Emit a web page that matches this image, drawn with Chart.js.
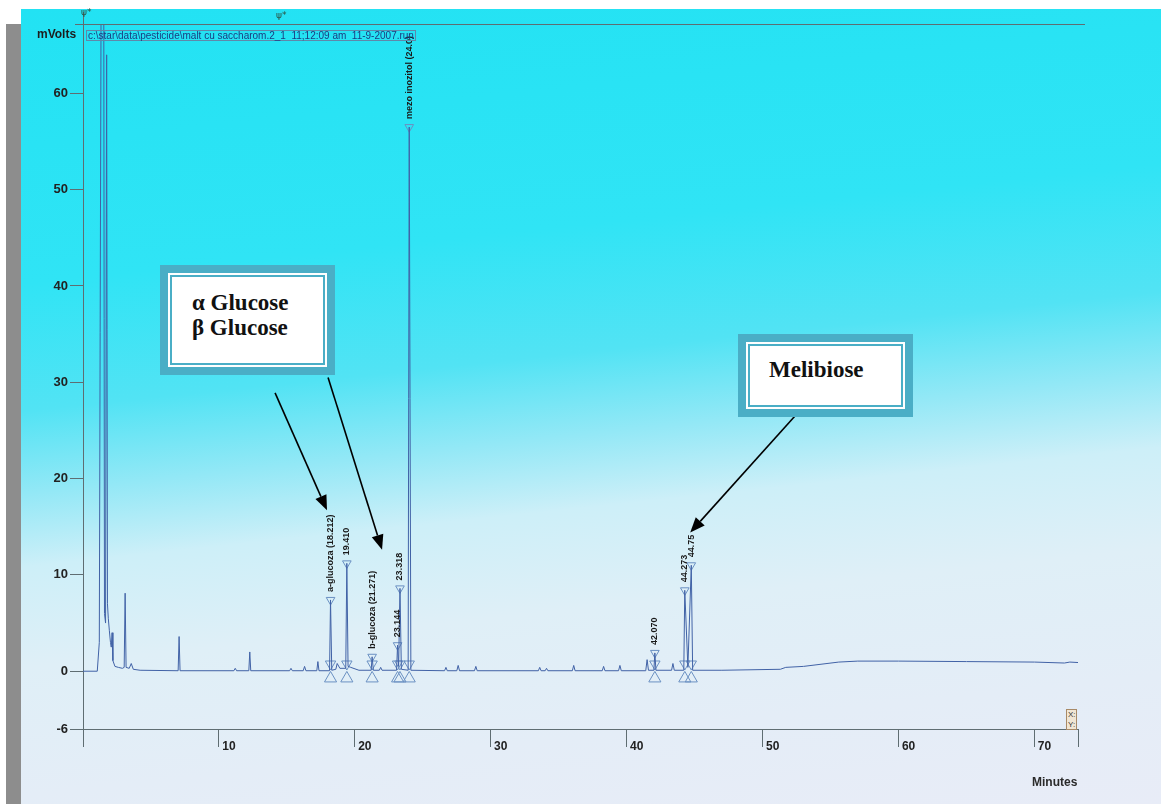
<!DOCTYPE html>
<html>
<head>
<meta charset="utf-8">
<script src="https://cdn.jsdelivr.net/npm/chart.js@4.4.1/dist/chart.umd.min.js"></script>
<style>
  html, body { margin: 0; padding: 0; background: #fff; }
  #page { position: relative; width: 1161px; height: 804px; overflow: hidden; font-family: "Liberation Sans", Arial, sans-serif; }
  #strip { position: absolute; left: 6px; top: 24px; width: 15px; height: 780px; background: #8d8d8d; }
  #scan { position: absolute; left: 21px; top: 9px; right: 0; bottom: 0;
    background: linear-gradient(174deg, #22e2f3 0%, #30e4f5 30%, #52e3f4 44%, #93e8f6 53%, #cdeff8 61%, #dfeff7 72%, #e4edf7 86%, #e8ecf7 100%); }
  #chart { position: absolute; left: 0; top: 0; }
  .txt { position: absolute; white-space: pre; color: #1d1d1d; }
  #ylab { left: 37px; top: 27px; font: bold 12px "Liberation Sans", Arial, sans-serif; }
  #xlab { left: 1032px; top: 775px; font: bold 12px "Liberation Sans", Arial, sans-serif; color: #2a2a2a; }
  #file { left: 86px; top: 30px; font: 10px "Liberation Sans", Arial, sans-serif; line-height: 9px;
    color: #1c3c80; border: 1px solid #5f88aa; padding: 0 1px; }
  .evt { position: absolute; font: 9px "DejaVu Sans", sans-serif; color: #2d5040; }
  #xy { position: absolute; left: 1066px; top: 709px; width: 11px; height: 21px; border: 1px solid #a88a68;
    background: #f1e6d4; font: 8px "Liberation Sans", Arial, sans-serif; line-height: 10px; color: #333; padding-left: 1px; box-sizing: border-box; }
  .note { position: absolute; background: #4aaec6; padding: 8px; box-sizing: border-box; }
  .note .mid { background: #fff; padding: 2px; height: 100%; box-sizing: border-box; }
  .note .inner { border: 2px solid #4aaec6; background: #fff; height: 100%; box-sizing: border-box;
    font: bold 23px "Liberation Serif", "Times New Roman", serif; line-height: 25px; color: #111; white-space: pre; }
</style>
</head>
<body>
<div id="page">
  <div id="scan"></div>
  <div id="strip"></div>
  <canvas id="chart" width="1161" height="804"></canvas>
  <div class="txt" id="ylab">mVolts</div>
  <div class="txt" id="xlab">Minutes</div>
  <div class="txt" id="file">c:\star\data\pesticide\malt cu saccharom.2_1  11;12:09 am  11-9-2007.run</div>
  <div class="evt" style="left:81px; top:7px;">ψ*</div>
  <div class="evt" style="left:276px; top:10px;">ψ*</div>
  <div id="xy">X:<br>Y:</div>
  <div class="note" style="left:160px; top:265px; width:175px; height:110px;">
    <div class="mid"><div class="inner" style="padding:13px 0 0 20px;">α Glucose
β Glucose</div></div>
  </div>
  <div class="note" style="left:738px; top:334px; width:175px; height:83px;">
    <div class="mid"><div class="inner" style="padding:11px 0 0 19px;">Melibiose</div></div>
  </div>
</div>
<script>
// detector trace, minutes / mVolts
var traceTime = [0, 1.05, 1.20, 1.35, 1.52, 1.58, 1.66, 1.74, 1.80, 1.86, 1.94, 2.02, 2.08, 2.14, 2.20, 2.35, 2.60, 2.90,
  3.03, 3.10, 3.17, 3.40, 3.55, 3.70, 4.20, 7.00, 7.07, 7.14, 11.1, 11.2, 11.3, 12.20, 12.27, 12.34,
  15.2, 15.3, 15.4, 16.2, 16.3, 16.4, 17.2, 17.28, 17.36, 18.14, 18.21, 18.30, 18.6, 18.7, 18.9,
  19.33, 19.41, 19.50, 19.7, 20.3, 21.2, 21.27, 21.36, 21.8, 21.9, 22.0,
  23.07, 23.14, 23.22, 23.32, 23.42, 23.92, 24.0, 24.12,
  26.6, 26.7, 26.8, 27.5, 27.6, 27.7, 28.8, 28.9, 29.0, 33.5, 33.6, 33.7, 34.0, 34.1, 34.2,
  36.0, 36.1, 36.2, 38.2, 38.3, 38.4, 39.4, 39.5, 39.6, 41.4, 41.5, 41.6, 42.0, 42.07, 42.15,
  43.3, 43.4, 43.5, 44.2, 44.27, 44.5, 44.75, 44.85,
  47, 51.3, 51.7, 53, 55.6, 57, 60, 65, 70, 72.2, 72.6, 73.2];
var traceMv = [0, 0, 3, 80, 80, 6, 5, 64, 7, 5.5, 4.2, 3.0, 2.5, 4.0, 1.1, 0.5, 0.4, 0.3,
  0.4, 8.1, 0.4, 0.3, 0.8, 0.2, 0.1, 0.05, 3.6, 0.05, 0.05, 0.3, 0.05, 0.05, 2.0, 0.05,
  0.05, 0.3, 0.05, 0.05, 0.5, 0.05, 0.05, 1.0, 0.05, 0.05, 7.4, 0.1, 0.2, 0.8, 0.3,
  0.3, 11.2, 0.5, 0.4, 0.1, 0.1, 1.5, 0.1, 0.1, 0.4, 0.1,
  0.1, 2.7, 0.5, 8.6, 0.2, 0.1, 56.5, 0.1,
  0.05, 0.4, 0.05, 0.05, 0.6, 0.05, 0.05, 0.5, 0.05, 0.05, 0.4, 0.05, 0.05, 0.3, 0.05,
  0.05, 0.6, 0.05, 0.05, 0.5, 0.05, 0.05, 0.6, 0.05, 0.05, 1.2, 0.1, 0.1, 1.9, 0.1,
  0.1, 0.8, 0.1, 0.1, 8.4, 0.4, 11.0, 0.1,
  0.1, 0.2, 0.4, 0.5, 0.95, 1.05, 1.05, 1.0, 0.95, 0.85, 0.95, 0.9];

// integrated peaks
var peakTimes = [18.212, 19.410, 21.271, 23.144, 23.318, 24.0, 42.070, 44.273, 44.75];
var peakHeights = [7.4, 11.2, 1.5, 2.7, 8.6, 56.5, 1.9, 8.4, 11.0];
var peakLabels = ['a-glucoza (18.212)', '19.410', 'b-glucoza (21.271)', '23.144', '23.318',
  'mezo inozitol (24.0)', '42.070', '44.273', '44.75'];

// axes
var xTicks = [10, 20, 30, 40, 50, 60, 70];
var yTicks = [-6, 0, 10, 20, 30, 40, 50, 60];
var xMax = 73.2;
var yMin = -6;
var yMax = 67.2;

// call-out arrows [fromTime, fromMv, toTime, toMv]
var arrows = [
  [14.13, 28.9, 17.95, 16.7],
  [18.03, 30.5, 22.0, 12.6],
  [52.76, 27.1, 44.67, 14.4]
];

var BASE_MARK = 0.75;  // offset of the integration marks around the baseline

var axisColor = '#5f6d72';
Chart.defaults.font.family = '"Liberation Sans", Arial, sans-serif';

// peak labels, arrows, frame lines
var decorPlugin = {
  id: 'decor',
  afterDatasetsDraw: function(chart) {
    var ctx = chart.ctx;
    var xs = chart.scales.x;
    var ys = chart.scales.y;
    var area = chart.chartArea;
    ctx.save();
    // frame line at the top and the y axis running past it
    ctx.strokeStyle = axisColor;
    ctx.lineWidth = 1;
    ctx.beginPath();
    ctx.moveTo(area.left - 8, area.top + 0.5);
    ctx.lineTo(area.right + 7, area.top + 0.5);
    ctx.moveTo(area.left + 0.5, area.top - 12);
    ctx.lineTo(area.left + 0.5, area.top);
    ctx.stroke();

    // rotated peak names
    ctx.fillStyle = '#1a1a1a';
    ctx.font = 'bold 9px "Liberation Sans", Arial, sans-serif';
    ctx.textAlign = 'left';
    ctx.textBaseline = 'middle';
    peakTimes.forEach(function(t, i) {
      var px = xs.getPixelForValue(t);
      var py = ys.getPixelForValue(peakHeights[i]);
      ctx.save();
      ctx.translate(px, py - 8);
      ctx.rotate(-Math.PI / 2);
      ctx.fillText(peakLabels[i], 0, 0);
      ctx.restore();
    });

    // arrows
    ctx.strokeStyle = '#000';
    ctx.fillStyle = '#000';
    ctx.lineWidth = 1.6;
    arrows.forEach(function(a) {
      var x1 = xs.getPixelForValue(a[0]), y1 = ys.getPixelForValue(a[1]);
      var x2 = xs.getPixelForValue(a[2]), y2 = ys.getPixelForValue(a[3]);
      var ang = Math.atan2(y2 - y1, x2 - x1);
      var len = 15, half = 6;
      var bx = x2 - Math.cos(ang) * len, by = y2 - Math.sin(ang) * len;
      ctx.beginPath();
      ctx.moveTo(x1, y1);
      ctx.lineTo(bx, by);
      ctx.stroke();
      ctx.beginPath();
      ctx.moveTo(x2, y2);
      ctx.lineTo(bx + Math.sin(ang) * half, by - Math.cos(ang) * half);
      ctx.lineTo(bx - Math.sin(ang) * half, by + Math.cos(ang) * half);
      ctx.closePath();
      ctx.fill();
    });
    ctx.restore();
  }
};

var markStyle = {
  showLine: false,
  pointStyle: 'triangle',
  borderColor: '#6a90c2',
  backgroundColor: 'rgba(0,0,0,0)',
  pointBorderWidth: 1
};

function peakPoints(yFor) {
  return peakTimes.map(function(t, i) { return { x: t, y: yFor(i) }; });
}

var chart = new Chart(document.getElementById('chart'), {
  type: 'scatter',
  data: {
    datasets: [
      {
        label: 'trace',
        data: traceTime.map(function(t, i) { return { x: t, y: traceMv[i] }; }),
        showLine: true,
        borderColor: '#4162a6',
        borderWidth: 1,
        pointRadius: 0,
        fill: false
      },
      Object.assign({ data: peakPoints(function(i) { return peakHeights[i]; }), pointRadius: 5, rotation: 180 }, markStyle),
      Object.assign({ data: peakPoints(function() { return BASE_MARK; }), pointRadius: 6, rotation: 180 }, markStyle),
      Object.assign({ data: peakPoints(function() { return -BASE_MARK; }), pointRadius: 7, rotation: 0 }, markStyle)
    ]
  },
  options: {
    responsive: false,
    animation: false,
    events: [],
    layout: { padding: { left: 0, right: 83, top: 24, bottom: 0 } },
    plugins: { legend: { display: false }, tooltip: { enabled: false } },
    scales: {
      x: {
        type: 'linear',
        min: 0,
        max: xMax,
        afterBuildTicks: function(scale) {
          scale.ticks = [0].concat(xTicks, [xMax]).map(function(v) { return { value: v }; });
        },
        afterFit: function(scale) { scale.height = 75; },
        ticks: {
          autoSkip: false,
          maxRotation: 0,
          align: 'start',
          padding: -8,
          color: '#222',
          font: { size: 12, weight: 'bold' },
          callback: function(v) { return xTicks.indexOf(v) >= 0 ? ' ' + v : ''; }
        },
        grid: { display: true, drawOnChartArea: false, drawTicks: true, tickLength: 18, color: axisColor },
        border: { display: true, color: axisColor }
      },
      y: {
        type: 'linear',
        min: yMin,
        max: yMax,
        afterBuildTicks: function(scale) {
          scale.ticks = yTicks.map(function(v) { return { value: v }; });
        },
        afterFit: function(scale) { scale.width = 83; },
        ticks: {
          autoSkip: false,
          padding: 2,
          color: '#222',
          font: { size: 13, weight: 'bold' },
          callback: function(v) { return '' + v; }
        },
        grid: { display: true, drawOnChartArea: false, drawTicks: true, tickLength: 13, color: axisColor },
        border: { display: true, color: axisColor }
      }
    }
  },
  plugins: [decorPlugin]
});
</script>
</body>
</html>
